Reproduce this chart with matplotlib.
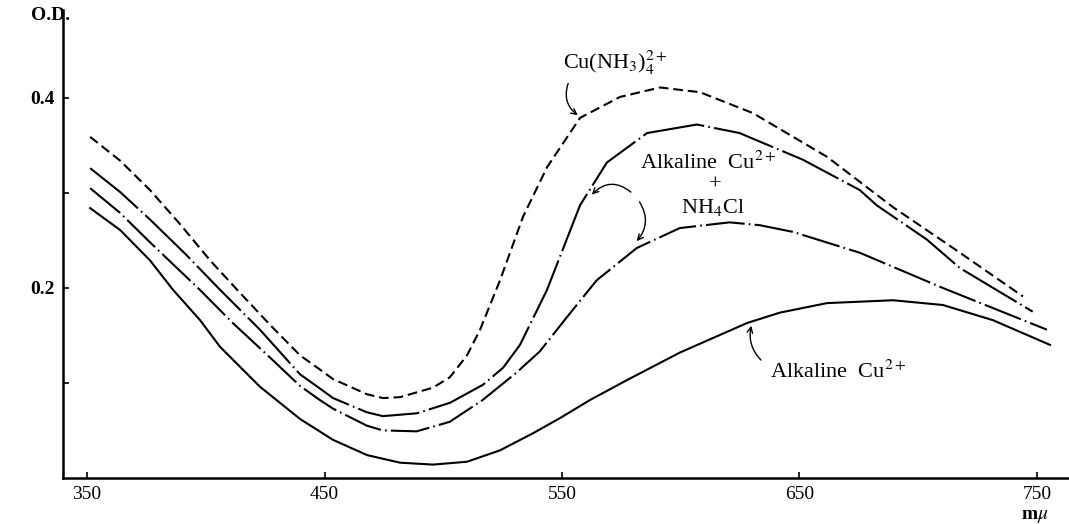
import matplotlib
matplotlib.use("Agg")
import matplotlib.pyplot as plt

plt.rcParams["font.family"] = ["Liberation Serif", "DejaVu Serif"]
plt.rcParams["mathtext.fontset"] = "stix"
plt.rcParams["lines.scale_dashes"] = False

# wavelength (m mu) and optical density
nm_ammine = [351.3, 363.9, 376.5, 389.2, 401.8, 413.2, 427.1, 439.7, 448.1, 453.6,
             467.9, 474.6, 481.8, 495.7, 502.8, 510.0, 515.5, 523.9, 533.6, 543.7,
             557.6, 574.4, 591.3, 608.1, 630.4, 661.6, 689.4, 717.6, 744.1]
od_ammine = [0.359, 0.334, 0.303, 0.267, 0.229, 0.198, 0.161, 0.129, 0.114, 0.104,
             0.088, 0.084, 0.085, 0.095, 0.106, 0.129, 0.156, 0.208, 0.275, 0.327,
             0.379, 0.401, 0.411, 0.406, 0.384, 0.338, 0.285, 0.237, 0.191]

nm_nh4cl_a = [351.3, 363.9, 376.5, 391.3, 406.0, 422.8, 439.7, 448.1, 453.6, 467.9,
              474.6, 488.9, 502.8, 516.7, 525.2, 532.3, 543.7, 557.6, 568.9, 585.8,
              606.8, 624.8, 633.3, 651.4, 675.4, 682.5, 703.6, 717.5, 748.2]
od_nh4cl_a = [0.326, 0.301, 0.272, 0.236, 0.198, 0.156, 0.109, 0.094, 0.084, 0.069,
              0.065, 0.068, 0.079, 0.098, 0.116, 0.140, 0.198, 0.287, 0.332, 0.363,
              0.372, 0.363, 0.354, 0.335, 0.303, 0.287, 0.251, 0.221, 0.175]

nm_nh4cl_b = [351.3, 363.9, 376.5, 397.5, 411.4, 428.2, 439.6, 448.0, 453.5, 467.8,
              474.5, 488.8, 502.7, 516.6, 530.9, 540.6, 552.0, 564.6, 581.5, 599.6,
              620.6, 633.3, 647.2, 675.4, 710.3, 754.2]
od_nh4cl_b = [0.305, 0.279, 0.248, 0.198, 0.163, 0.124, 0.097, 0.082, 0.073, 0.055,
              0.050, 0.049, 0.059, 0.082, 0.111, 0.133, 0.169, 0.208, 0.242, 0.263,
              0.269, 0.266, 0.259, 0.237, 0.200, 0.156]

nm_alk = [351.3, 363.9, 376.5, 386.2, 397.6, 406.0, 422.8, 439.7, 453.6, 467.9,
          481.8, 495.7, 510.0, 523.9, 537.8, 549.2, 561.8, 577.4, 599.7, 627.9,
          641.8, 661.6, 689.4, 710.4, 731.5, 755.5]
od_alk = [0.284, 0.261, 0.229, 0.198, 0.166, 0.138, 0.096, 0.062, 0.040, 0.024,
          0.016, 0.014, 0.017, 0.029, 0.047, 0.063, 0.082, 0.103, 0.132, 0.163,
          0.174, 0.184, 0.187, 0.182, 0.166, 0.140]

x_ticks = [350, 450, 550, 650, 750]
y_ticks = [0.1, 0.2, 0.3, 0.4]
y_labels = ["", "0.2", "", "0.4"]

fig = plt.figure(figsize=(10.69, 5.24), dpi=100)
ax = fig.add_axes([0.059, 0.088, 0.941, 0.893])

lw = 1.5
style = dict(color="black", lw=lw, solid_joinstyle="round", dash_joinstyle="round")
ax.plot(nm_ammine, od_ammine, linestyle=(0, (7, 3.5)), **style)
ax.plot(nm_nh4cl_a, od_nh4cl_a, linestyle=(0, (45, 3, 1.2, 3)), **style)
ax.plot(nm_nh4cl_b, od_nh4cl_b, linestyle=(0, (28, 3, 1.2, 3)), **style)
ax.plot(nm_alk, od_alk, **style)

ax.set_xlim(339.9, 763.5)
ax.set_ylim(0, 0.4926)
ax.spines["top"].set_visible(False)
ax.spines["right"].set_visible(False)
ax.spines["left"].set_linewidth(1.8)
ax.spines["bottom"].set_linewidth(1.8)

ax.set_xticks(x_ticks)
ax.set_xticklabels([str(v) for v in x_ticks], fontsize=14)
ax.set_yticks(y_ticks)
ax.set_yticklabels(y_labels, fontsize=14, fontweight="bold")
ax.tick_params(direction="in", length=4, width=1.2, pad=6)

# labels
fig.text(0.047, 0.971, "O.D.", fontsize=14, fontweight="bold", ha="center", va="center")
fig.text(0.968, 0.014, r"m$\mu$", fontsize=14, fontweight="bold", ha="center", va="center")

ax.text(550.4, 0.437, r"Cu(NH$_3$)$_4^{2+}$", fontsize=16, ha="left", va="center")
ax.text(611.5, 0.332, r"Alkaline  Cu$^{2+}$", fontsize=16, ha="center", va="center")
ax.text(614.4, 0.308, "+", fontsize=16, ha="center", va="center")
ax.text(613.6, 0.285, r"NH$_4$Cl", fontsize=16, ha="center", va="center")
ax.text(637.6, 0.112, r"Alkaline  Cu$^{2+}$", fontsize=16, ha="left", va="center")

arrow = dict(arrowstyle="->", color="black", lw=1.0)
ax.annotate("", xy=(557.6, 0.380), xytext=(553.0, 0.418),
            arrowprops=dict(arrow, connectionstyle="arc3,rad=0.4"))
ax.annotate("", xy=(561.8, 0.296), xytext=(579.9, 0.299),
            arrowprops=dict(arrow, connectionstyle="arc3,rad=0.5"))
ax.annotate("", xy=(580.7, 0.247), xytext=(582.0, 0.293),
            arrowprops=dict(arrow, connectionstyle="arc3,rad=-0.4"))
ax.annotate("", xy=(630.0, 0.163), xytext=(634.6, 0.122),
            arrowprops=dict(arrow, connectionstyle="arc3,rad=-0.3"))

fig.savefig("out.png", dpi=100)
